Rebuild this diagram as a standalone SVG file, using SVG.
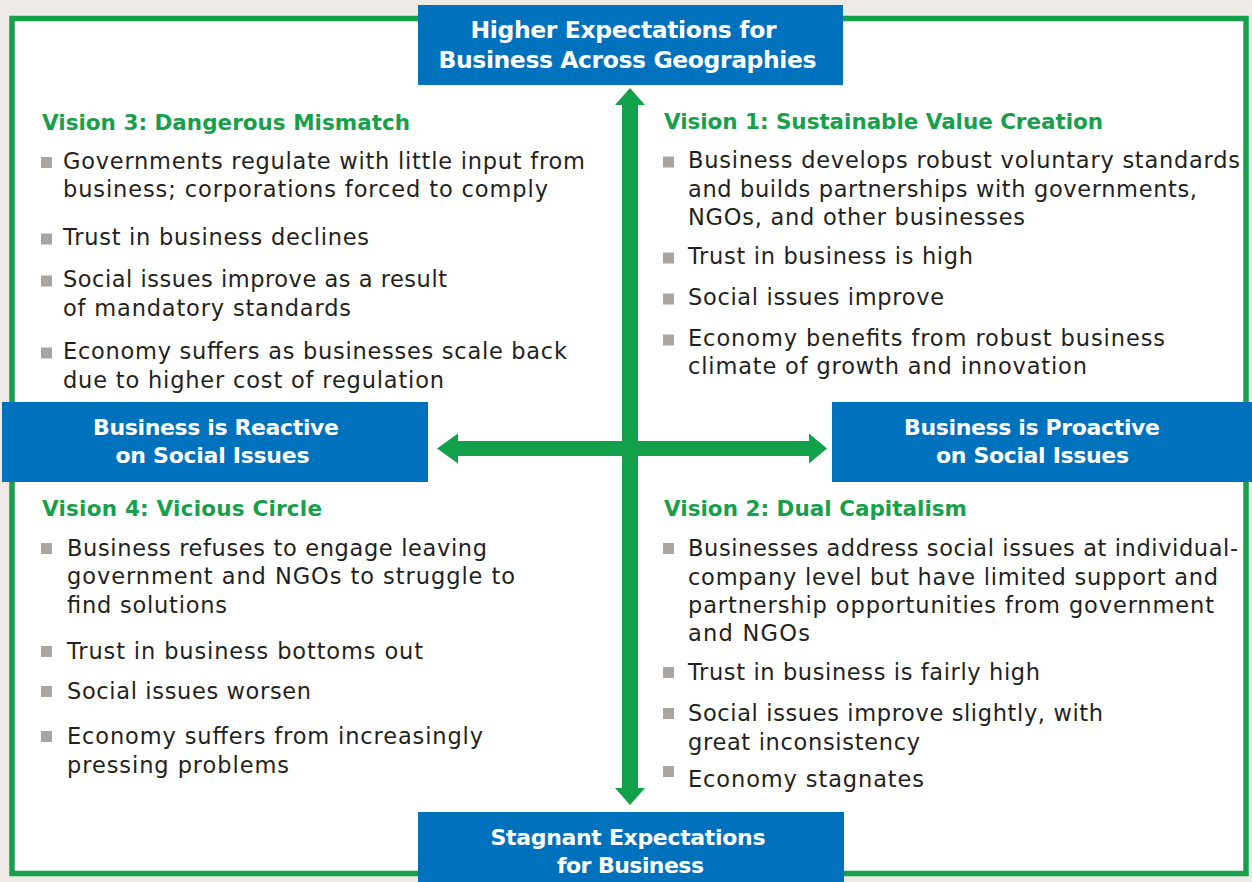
<svg xmlns="http://www.w3.org/2000/svg" width="1252" height="882" viewBox="0 0 1252 882">
<style>
text{font-family:"DejaVu Sans","Open Sans","Liberation Sans",sans-serif}
.t{font-size:22.5px;fill:#231f20}
.h{font-size:21.5px;font-weight:bold;fill:#17a04b}
.bx{fill:#0071bc}
.bt{font-size:22px;font-weight:bold;fill:#ffffff;text-anchor:middle}
.bt2{font-size:23.5px;font-weight:bold;fill:#ffffff;text-anchor:middle}
.bl{fill:#a8a5a3}
.ar{fill:#13a04a}
</style>
<rect x="0" y="0" width="1252" height="882" fill="#eeebe7"/>
<rect x="12" y="18.5" width="1234" height="855" fill="#ffffff" stroke="#17a04b" stroke-width="5.5"/>
<g id="connectors">
<polygon class="ar" points="630,88 645,105 638,105 638,788 645,788 630,805 615,788 622,788 622,105 615,105"/>
<polygon class="ar" points="437,448.5 458,433.5 458,441 809,441 809,433.5 827,448.5 809,463.5 809,456 458,456 458,463.5"/>
</g>
<g id="top">
<rect class="bx" x="418" y="5" width="425" height="80"/>
<text class="bt2" x="623.5" y="38" textLength="306">Higher Expectations for</text>
<text class="bt2" x="627.5" y="68.3" textLength="378">Business Across Geographies</text>
</g>
<g id="bottom">
<rect class="bx" x="418" y="812" width="426" height="70"/>
<text class="bt" x="628" y="845" textLength="275">Stagnant Expectations</text>
<text class="bt" x="630.5" y="873" textLength="147">for Business</text>
</g>
<g id="left">
<rect class="bx" x="2" y="402" width="426" height="80"/>
<text class="bt" x="216" y="435" textLength="246">Business is Reactive</text>
<text class="bt" x="212.5" y="463" textLength="194">on Social Issues</text>
</g>
<g id="right">
<rect class="bx" x="832" y="402" width="420" height="80"/>
<text class="bt" x="1032" y="435" textLength="256">Business is Proactive</text>
<text class="bt" x="1032.5" y="463" textLength="193">on Social Issues</text>
</g>
<g id="vision3">
<text class="h" x="42" y="129.5" textLength="368">Vision 3: Dangerous Mismatch</text>
<rect class="bl" x="41" y="157" width="11" height="11"/>
<text class="t" x="63" y="168.5" textLength="522">Governments regulate with little input from</text>
<text class="t" x="63" y="197" textLength="485">business; corporations forced to comply</text>
<rect class="bl" x="41" y="233.5" width="11" height="11"/>
<text class="t" x="63" y="245" textLength="306">Trust in business declines</text>
<rect class="bl" x="41" y="275.5" width="11" height="11"/>
<text class="t" x="63" y="287" textLength="384">Social issues improve as a result</text>
<text class="t" x="63" y="315.5" textLength="288">of mandatory standards</text>
<rect class="bl" x="41" y="347.5" width="11" height="11"/>
<text class="t" x="63" y="359" textLength="504">Economy suffers as businesses scale back</text>
<text class="t" x="63" y="388" textLength="381">due to higher cost of regulation</text>
</g>
<g id="vision1">
<text class="h" x="664" y="129" textLength="439">Vision 1: Sustainable Value Creation</text>
<rect class="bl" x="663" y="156.5" width="11" height="11"/>
<text class="t" x="688" y="168" textLength="552">Business develops robust voluntary standards</text>
<text class="t" x="688" y="197" textLength="509">and builds partnerships with governments,</text>
<text class="t" x="688" y="225" textLength="337">NGOs, and other businesses</text>
<rect class="bl" x="663" y="252.5" width="11" height="11"/>
<text class="t" x="688" y="264" textLength="285">Trust in business is high</text>
<rect class="bl" x="663" y="293.5" width="11" height="11"/>
<text class="t" x="688" y="305" textLength="256">Social issues improve</text>
<rect class="bl" x="663" y="334.5" width="11" height="11"/>
<text class="t" x="688" y="346" textLength="477">Economy benefits from robust business</text>
<text class="t" x="688" y="374" textLength="399">climate of growth and innovation</text>
</g>
<g id="vision4">
<text class="h" x="42" y="516" textLength="280">Vision 4: Vicious Circle</text>
<rect class="bl" x="41" y="543" width="11" height="11"/>
<text class="t" x="67" y="556" textLength="420">Business refuses to engage leaving</text>
<text class="t" x="67" y="584" textLength="448">government and NGOs to struggle to</text>
<text class="t" x="67" y="613" textLength="160">find solutions</text>
<rect class="bl" x="41" y="646" width="11" height="11"/>
<text class="t" x="67" y="659" textLength="356">Trust in business bottoms out</text>
<rect class="bl" x="41" y="686" width="11" height="11"/>
<text class="t" x="67" y="699" textLength="244">Social issues worsen</text>
<rect class="bl" x="41" y="731" width="11" height="11"/>
<text class="t" x="67" y="744" textLength="416">Economy suffers from increasingly</text>
<text class="t" x="67" y="773" textLength="222">pressing problems</text>
</g>
<g id="vision2">
<text class="h" x="664" y="516" textLength="303">Vision 2: Dual Capitalism</text>
<rect class="bl" x="663" y="543" width="11" height="11"/>
<text class="t" x="688" y="556" textLength="550">Businesses address social issues at individual-</text>
<text class="t" x="688" y="584.5" textLength="530">company level but have limited support and</text>
<text class="t" x="688" y="613" textLength="526">partnership opportunities from government</text>
<text class="t" x="688" y="641" textLength="122">and NGOs</text>
<rect class="bl" x="663" y="667" width="11" height="11"/>
<text class="t" x="688" y="680" textLength="352">Trust in business is fairly high</text>
<rect class="bl" x="663" y="708" width="11" height="11"/>
<text class="t" x="688" y="721" textLength="415">Social issues improve slightly, with</text>
<text class="t" x="688" y="749.5" textLength="232">great inconsistency</text>
<rect class="bl" x="663" y="766" width="11" height="11"/>
<text class="t" x="688" y="787" textLength="236">Economy stagnates</text>
</g>
</svg>
